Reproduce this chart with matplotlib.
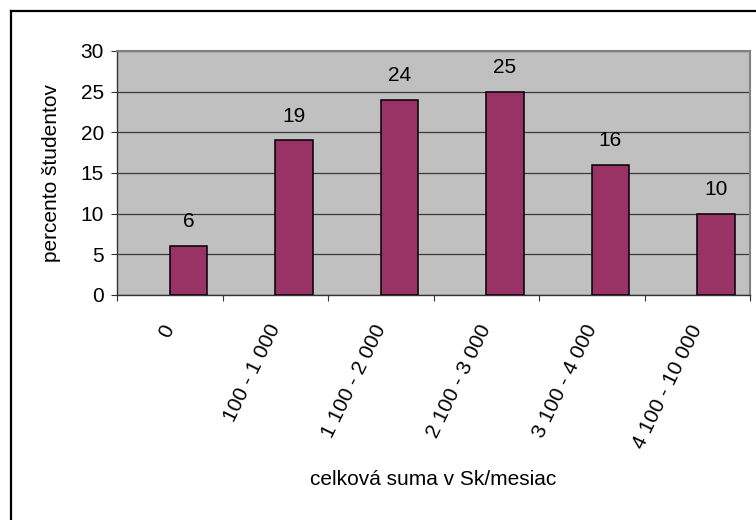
import numpy as np
import matplotlib
matplotlib.use("Agg")
import matplotlib.pyplot as plt
from matplotlib.lines import Line2D

plt.rcParams["font.family"] = ["Liberation Sans", "DejaVu Sans"]

categories = ["0", "100 - 1 000", "1 100 - 2 000", "2 100 - 3 000",
              "3 100 - 4 000", "4 100 - 10 000"]
values = [6, 19, 24, 25, 16, 10]
y_ticks = [0, 5, 10, 15, 20, 25, 30]

fs = 15
fig = plt.figure(figsize=(7.56, 5.2), dpi=100)
ax = fig.add_axes([117 / 756, 225 / 520, 633 / 756, 244 / 520])
ax.set_facecolor("#c0c0c0")

idx = np.arange(len(categories))
# bars start at category centre (second slot of a two-slot cluster)
bars = ax.bar(idx + 0.5, values, width=0.355, align="edge",
              color="#993366", edgecolor="black", linewidth=1.1, zorder=3)
for b, v in zip(bars, values):
    ax.annotate(str(v), (b.get_x() + b.get_width() / 2, v),
                xytext=(0, 13.5), textcoords="offset points",
                ha="center", va="baseline", fontsize=fs)

ax.set_xlim(0, len(categories))
ax.set_ylim(0, 30)
ax.set_yticks(y_ticks)
ax.yaxis.grid(True, color="#3a3a3a", linewidth=0.9, zorder=1)
ax.set_axisbelow(True)
ax.tick_params(axis="y", labelsize=fs, length=4.5, color="#333333", pad=5)

# tick marks at category borders, labels at centres
ax.set_xticks(np.arange(len(categories) + 1))
ax.set_xticklabels([])
ax.set_xticks(idx + 0.5, minor=True)
ax.set_xticklabels(categories, minor=True, rotation=64, ha="right",
                   va="center", rotation_mode="anchor", fontsize=fs)
ax.tick_params(axis="x", which="major", length=4.5, color="#333333")
ax.tick_params(axis="x", which="minor", length=0, pad=22)

for s in ["top", "right"]:
    ax.spines[s].set_color("#808080")
    ax.spines[s].set_linewidth(1.5)
for s in ["left", "bottom"]:
    ax.spines[s].set_color("#333333")
    ax.spines[s].set_linewidth(1.0)

ax.set_ylabel("percento študentov", fontsize=fs)
ax.yaxis.label.set_va("center")
ax.yaxis.set_label_coords(-0.1027, 0.5)
ax.set_xlabel("celková suma v Sk/mesiac", fontsize=fs)
ax.xaxis.label.set_va("center")
ax.xaxis.set_label_coords(0.5, -0.758)

# outer chart frame (top and left edges visible)
fig.add_artist(Line2D([10.5 / 756, 1.0], [1 - 10.5 / 520] * 2,
                      transform=fig.transFigure, color="black", linewidth=1.6))
fig.add_artist(Line2D([10.5 / 756] * 2, [0.0, 1 - 10.5 / 520],
                      transform=fig.transFigure, color="black", linewidth=1.6))

fig.savefig("out.png", dpi=100)
